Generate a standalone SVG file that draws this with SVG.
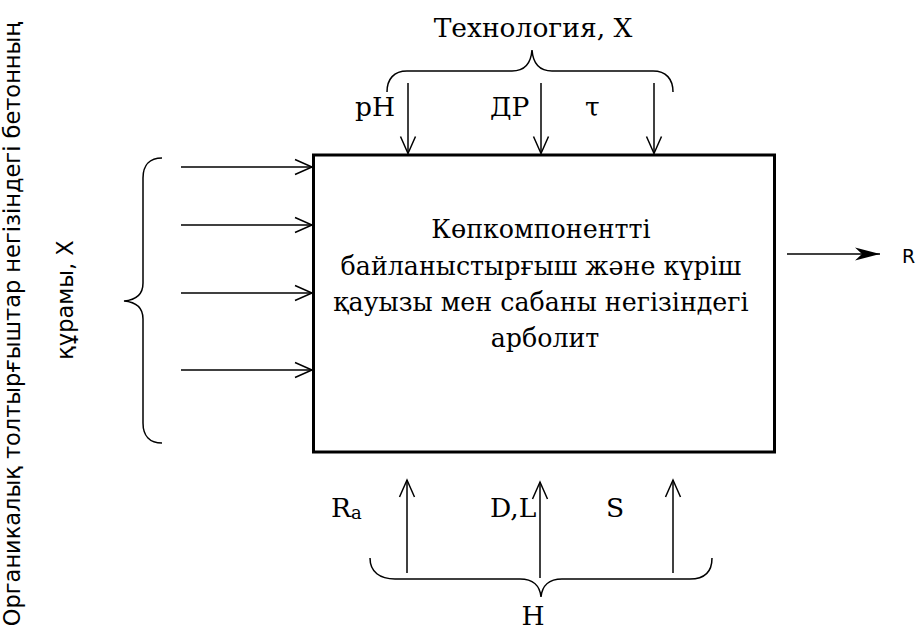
<svg xmlns="http://www.w3.org/2000/svg" width="918" height="633" viewBox="0 0 918 633">
  <defs>
    <style>
      .serif { font-family: "DejaVu Serif", serif; font-size: 26.5px; fill: #000; }
      .body { font-size: 25.3px; }
      .sans { font-family: "DejaVu Sans", sans-serif; fill: #000; }
      .line { stroke: #000; stroke-width: 1.5; fill: none; }
      .brace { stroke: #000; stroke-width: 1.5; fill: none; }
      .in { marker-end: url(#open); }
      .out { marker-end: url(#solid); }
    </style>
    <!-- open V arrowhead for inputs -->
    <marker id="open" viewBox="-20 -10 22 20" refX="0" refY="0" markerWidth="22" markerHeight="20" markerUnits="userSpaceOnUse" orient="auto">
      <path d="M -17 -7.5 L 0 0 L -17 7.5" fill="none" stroke="#000" stroke-width="1.5"/>
    </marker>
    <!-- filled stealth arrowhead for the output -->
    <marker id="solid" viewBox="-26 -8 28 16" refX="0" refY="0" markerWidth="28" markerHeight="16" markerUnits="userSpaceOnUse" orient="auto">
      <path d="M -25 -6.5 L 0 0 L -25 6.5 L -18 0 Z" fill="#000"/>
    </marker>
  </defs>

  <rect width="918" height="633" fill="#fff"/>

  <!-- central block -->
  <g id="node-arbolit">
    <rect x="313.5" y="155" width="461" height="297" fill="#fff" stroke="#000" stroke-width="3"/>
    <text class="serif body" text-anchor="middle">
      <tspan x="545" y="238">Көпкомпонентті</tspan>
      <tspan x="545" y="274.5">байланыстырғыш және күріш</tspan>
      <tspan x="545" y="311">қауызы мен сабаны негізіндегі</tspan>
      <tspan x="545" y="347">арболит</tspan>
    </text>
  </g>

  <!-- technology inputs (top) -->
  <g id="node-technology">
    <text class="serif" x="533" y="37" text-anchor="middle">Технология, X</text>
    <path class="brace" d="M387 92 C387 79 394 71 407 71 L512 71 C525 71 531 63 532 50 C533 63 539 71 552 71 L653 71 C666 71 673 79 673 92"/>
    <text class="serif" x="355" y="116">pH</text>
    <text class="serif" x="490" y="116">ДР</text>
    <text class="serif" x="585" y="116">τ</text>
  </g>

  <!-- composition inputs (left) -->
  <g id="node-composition">
    <path class="brace" d="M162 158 C150 158 143 165 143 178 L143 283 C143 295 136 300 124 301 C136 302 143 307 143 319 L143 423 C143 436 150 443 162 443"/>
    <text class="sans" font-size="22.5" text-anchor="middle" transform="translate(20 324) rotate(-90)">Органикалық толтырғыштар негізіндегі бетонның</text>
    <text class="sans" font-size="22.5" text-anchor="middle" transform="translate(73 300) rotate(-90)">құрамы, X</text>
  </g>

  <!-- disturbance inputs (bottom) -->
  <g id="node-h">
    <path class="brace" d="M370 558 C370 572 380 579 395 579 L520 579 C533 579 540 586 541 597 C542 586 549 579 562 579 L690 579 C705 579 712 572 712 558"/>
    <text class="serif" x="533" y="625" text-anchor="middle">H</text>
    <text class="serif" x="331" y="517">R<tspan font-size="18" dy="2">a</tspan></text>
    <text class="serif" x="490" y="517">D,L</text>
    <text class="serif" x="606" y="517">S</text>
  </g>

  <!-- output -->
  <g id="node-r">
    <text class="sans" font-size="19" x="902" y="263">R</text>
  </g>

  <!-- connectors -->
  <g id="connectors">
    <line class="line in" x1="408" y1="83" x2="408" y2="153.5"/>
    <line class="line in" x1="541" y1="83" x2="541" y2="153.5"/>
    <line class="line in" x1="654" y1="83" x2="654" y2="153.5"/>

    <line class="line in" x1="181" y1="167" x2="312" y2="167"/>
    <line class="line in" x1="181" y1="225" x2="312" y2="225"/>
    <line class="line in" x1="181" y1="293" x2="312" y2="293"/>
    <line class="line in" x1="181" y1="370" x2="312" y2="370"/>

    <line class="line in" x1="407" y1="573" x2="407" y2="480"/>
    <line class="line in" x1="540" y1="578" x2="540" y2="482"/>
    <line class="line in" x1="673" y1="573" x2="673" y2="480"/>

    <line class="line out" x1="787" y1="254" x2="880" y2="254"/>
  </g>
</svg>
